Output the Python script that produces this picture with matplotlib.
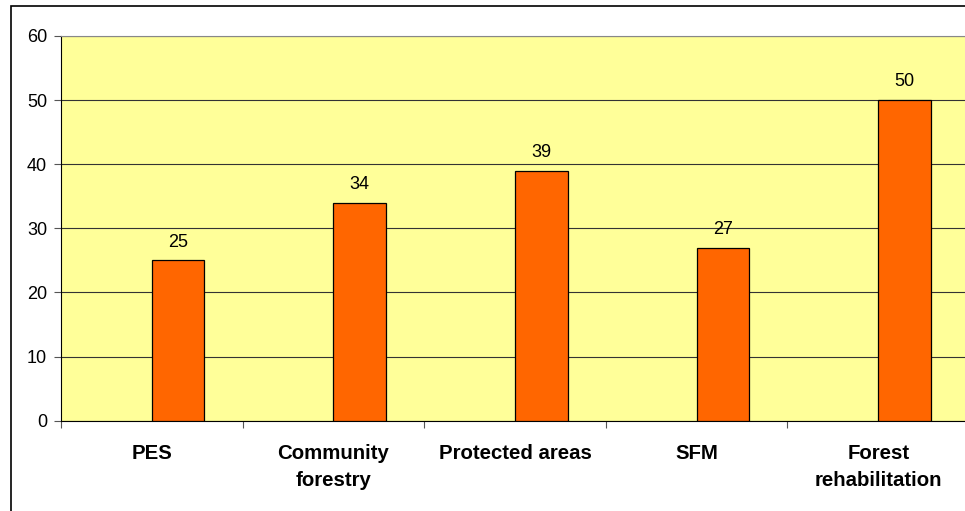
import matplotlib.pyplot as plt
from matplotlib.patches import Rectangle

categories = ['PES', 'Community\nforestry', 'Protected areas', 'SFM', 'Forest\nrehabilitation']
values = [25, 34, 39, 27, 50]

plt.rcParams['font.family'] = ['Liberation Sans', 'DejaVu Sans']

fig = plt.figure(figsize=(9.65, 5.11), dpi=100)
# outer chart frame (runs off the right and bottom edges)
fig.patches.append(Rectangle((11/965, -0.05), 1.2, 1 - 6.5/511 + 0.05,
                             transform=fig.transFigure, fill=False,
                             edgecolor='black', linewidth=1.2))

ax = fig.add_axes([61/965, 1 - 420.7/511, 908/965, (420.7 - 36)/511])
ax.set_facecolor('#FFFF99')

x = list(range(len(categories)))
bw = 0.29
# bars sit just right of the category centre (Excel style, empty second series)
bars = ax.bar(x, values, width=bw, align='edge', color='#FF6600',
              edgecolor='black', linewidth=0.9, zorder=3)
for xi, v in zip(x, values):
    ax.annotate(str(v), (xi + bw / 2, v), xytext=(0, 7), textcoords='offset points',
                ha='center', va='bottom', fontsize=13)

ax.set_xlim(-0.5, len(categories) - 0.5)
ax.set_ylim(0, 60)
ax.set_yticks(range(0, 61, 10))
ax.yaxis.grid(True, color='#333333', linewidth=0.8, zorder=1)
ax.set_axisbelow(True)

ax.set_xticks([i - 0.5 for i in x])
ax.set_xticklabels([])
ax.set_xticks(x, minor=True)
ax.set_xticklabels(categories, minor=True, fontweight='bold', fontsize=14.7,
                   linespacing=1.5)
ax.tick_params(axis='x', which='minor', length=0, pad=17)
ax.tick_params(axis='x', which='major', length=5, direction='out', color='#555555')
ax.tick_params(axis='y', length=5, labelsize=13, pad=5, color='#555555')

ax.spines['top'].set_color('#888888')
ax.spines['right'].set_visible(False)
ax.spines['left'].set_color('black')
ax.spines['bottom'].set_color('black')

fig.savefig('out.png', dpi=100)
